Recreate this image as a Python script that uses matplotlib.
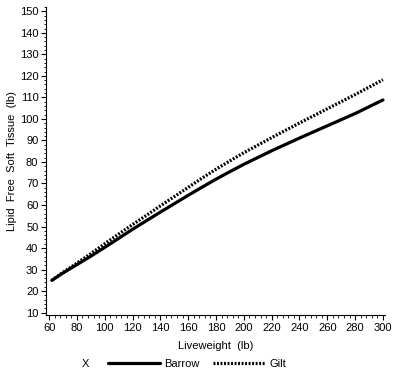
import matplotlib
matplotlib.use("Agg")
import matplotlib.pyplot as plt
from matplotlib.ticker import MultipleLocator

plt.rcParams['font.family'] = ['Liberation Sans', 'DejaVu Sans']

liveweight = [62, 70, 80, 90, 100, 110, 120, 130, 140, 150, 160, 170, 180, 190, 200,
              220, 240, 260, 280, 300]
barrow = [25, 28.4, 32.3, 36.2, 40.3, 44.5, 48.7, 52.7, 56.7, 60.6, 64.5, 68.3, 72, 75.5, 78.9,
          85.2, 91.1, 96.8, 102.5, 108.8]
gilt = [25, 28.7, 33, 37.4, 42, 46.5, 50.9, 55.2, 59.6, 63.9, 68.2, 72.5, 76.6, 80.5, 84.3,
        91.3, 98.1, 104.7, 111.3, 118.2]

fig = plt.figure(figsize=(3.99, 3.78), dpi=100)
ax = fig.add_axes([0.1153, 0.1667, 0.8497, 0.8148])

l1, = ax.plot(liveweight, barrow, color='black', lw=2.3, solid_capstyle='round', label='Barrow')
l2, = ax.plot(liveweight, gilt, color='black', lw=2.3, linestyle=(0, (0.6, 0.5)), label='Gilt')

ax.set_xlim(57.8, 301.5)
ax.set_ylim(8.9, 152)
ax.xaxis.set_major_locator(MultipleLocator(20))
ax.xaxis.set_minor_locator(MultipleLocator(4))
ax.yaxis.set_major_locator(MultipleLocator(10))
ax.yaxis.set_minor_locator(MultipleLocator(2))
ax.tick_params(which='major', direction='out', length=3.5, width=0.8, labelsize=8, pad=2)
ax.tick_params(which='minor', direction='out', length=1.8, width=0.6)
for s in ['top', 'right']:
    ax.spines[s].set_visible(False)
for s in ['left', 'bottom']:
    ax.spines[s].set_linewidth(0.8)

ax.set_xlabel('Liveweight  (lb)', fontsize=8, labelpad=6)
ax.set_ylabel('Lipid  Free  Soft  Tissue  (lb)', fontsize=8, labelpad=2)

fig.text(0.213, 0.038, 'X', fontsize=8, ha='center', va='center')
fig.legend(handles=[l1, l2], loc='center left', bbox_to_anchor=(0.27, 0.038), ncol=2,
           frameon=False, fontsize=8, handlelength=4.7, handletextpad=0.4,
           columnspacing=1.2, borderpad=0, borderaxespad=0)

fig.savefig('out.png', dpi=100)
